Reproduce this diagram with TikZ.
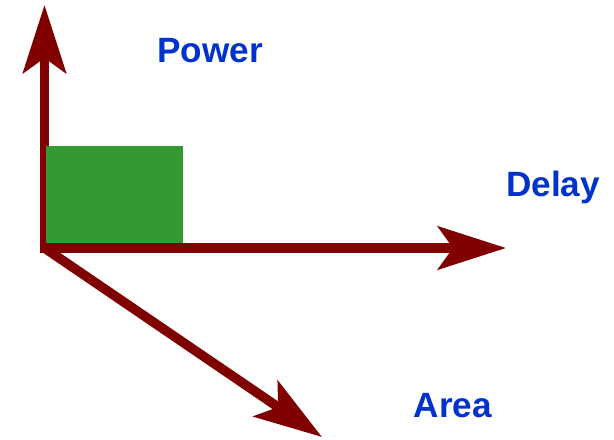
\documentclass[tikz,border=0pt]{standalone}
\usepackage{fontspec}
\setmainfont{Liberation Sans}
\usetikzlibrary{arrows.meta}
\definecolor{axisred}{RGB}{128,0,0}
\definecolor{boxgreen}{RGB}{51,153,51}
\definecolor{labelblue}{RGB}{0,51,204}
\tikzset{
    axis/.style={draw=axisred, line width=0.19cm, miter limit=10,
        -{Stealth[length=1.36cm, width=0.86cm, inset=0.3cm]}},
    axislabel/.style={text=labelblue, font=\fontsize{20}{24}\selectfont\bfseries,
        anchor=base, inner sep=0}
}
\begin{document}
\begin{tikzpicture}[x=0.02cm, y=-0.02cm]
    \useasboundingbox (0,0) rectangle (614,439);
    \coordinate (O) at (44.5,248);
    \coordinate (P) at (44.5,5);
    \coordinate (D) at (506,248);
    \coordinate (A) at (322,437);
    \draw[axis, {Stealth[length=1.36cm, width=0.86cm, inset=0.3cm]}-{Stealth[length=1.36cm, width=0.86cm, inset=0.3cm]}]
        (P) -- (O) -- (D);
    \draw[axis] (O) -- (A);
    \fill[boxgreen] (46,146) rectangle (183,243);
    \node[axislabel] (power) at (210,63) {Power};
    \node[axislabel] (delay) at (553,196) {Delay};
    \node[axislabel] (area) at (453,417) {Area};
\end{tikzpicture}
\end{document}
